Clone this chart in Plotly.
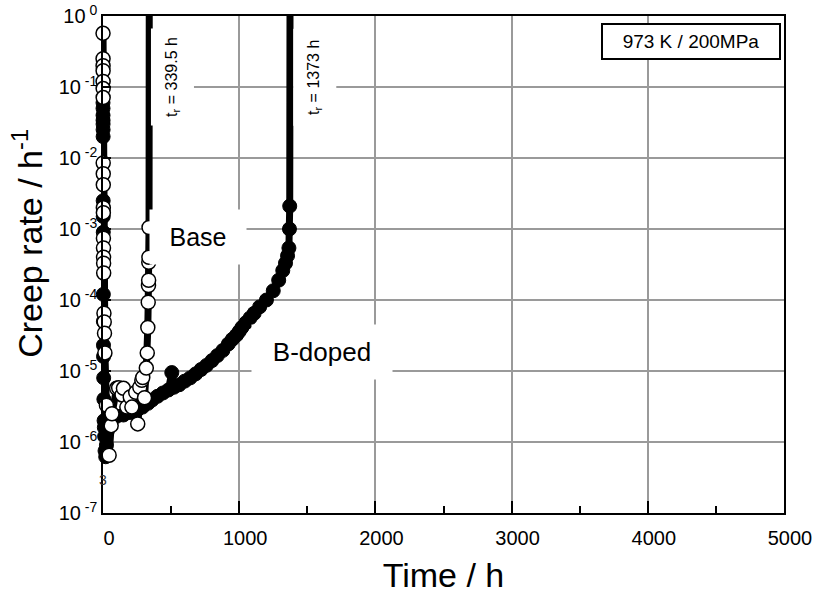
import plotly.graph_objects as go

# ---- creep test data, 973 K / 200 MPa ----
# Base steel: (time / h, creep rate / h^-1)
base_time = [0.2, 0.35, 0.5, 0.65, 0.8, 1.0, 1.2, 1.5, 1.8, 2.1, 2.4, 2.7, 3.0, 3.5,
             4.0, 4.5, 5.0, 7, 9, 11, 14, 25, 45, 60, 66, 100, 115, 140, 150, 175,
             200, 212, 240, 255, 270, 285, 292, 305, 318, 325, 329, 332, 334, 335,
             336, 337, 338]
base_rate = [0.57, 0.25, 0.2, 0.17, 0.12, 0.095, 0.071, 8.5e-3, 6.0e-3, 4.2e-3, 2.0e-3,
             1.7e-3, 7.4e-4, 5.4e-4, 4.0e-4, 3.3e-4, 2.4e-4, 6.5e-5, 4.9e-5, 3.4e-5,
             1.8e-5, 3.3e-6, 6.5e-7, 1.7e-6, 2.5e-6, 5.7e-6, 5.8e-6, 4.6e-6, 5.7e-6,
             3.1e-6, 4.3e-6, 3.1e-6, 5.0e-6, 1.8e-6, 5.9e-6, 7.4e-6, 8.1e-6, 4.2e-6,
             1.1e-5, 1.8e-5, 4.1e-5, 9.3e-5, 1.6e-4, 1.9e-4, 3.4e-4, 4.0e-4, 1.05e-3]

# Boron-doped steel
bdop_time = [0.1, 0.2, 0.3, 0.4, 0.5, 0.7, 1.0, 1.3, 1.6, 2.0, 2.5, 3.0, 3.5, 4.0, 5.0,
             6.5, 8, 10, 12, 15, 20, 25, 30, 40, 60, 100, 150, 200, 250, 290, 330, 360,
             400, 440, 480, 505, 520, 560, 600, 640, 680, 720, 760, 800, 840, 880, 920,
             950, 980, 1000, 1020, 1050, 1080, 1110, 1150, 1200, 1250, 1290, 1320, 1340,
             1355, 1365, 1369, 1371]
bdop_rate = [0.06, 0.05, 0.04, 0.034, 0.03, 0.025, 0.02, 2.5e-3, 1.5e-3, 9e-4, 1.2e-4,
             5e-5, 2.3e-5, 1.6e-5, 8e-6, 4e-6, 2e-6, 1.6e-6, 1.2e-6, 7.5e-7, 6.2e-7,
             9e-7, 1.4e-6, 1.9e-6, 2.2e-6, 2.3e-6, 2.4e-6, 2.6e-6, 2.8e-6, 3.1e-6,
             3.5e-6, 3.9e-6, 4.4e-6, 4.9e-6, 5.4e-6, 9.5e-6, 5.9e-6, 6.4e-6, 7.2e-6,
             8.0e-6, 9.1e-6, 1.05e-5, 1.2e-5, 1.4e-5, 1.65e-5, 1.95e-5, 2.4e-5, 2.8e-5,
             3.2e-5, 3.6e-5, 4.1e-5, 4.8e-5, 5.6e-5, 6.5e-5, 8.0e-5, 1.0e-4, 1.35e-4,
             1.9e-4, 2.6e-4, 3.3e-4, 4.2e-4, 5.4e-4, 1.0e-3, 2.1e-3]

# rupture lives
base_rupture = 339.5
bdop_rupture = 1373
rupture_rate = 1.0

# axis ticks
x_ticks = [0, 1000, 2000, 3000, 4000, 5000]
y_exponents = [0, -1, -2, -3, -4, -5, -6, -7]

FONT = "Liberation Sans, Arial, Helvetica, sans-serif"

fig = go.Figure()

# B-doped: thick black line running up to rupture, filled markers
fig.add_trace(go.Scatter(
    x=bdop_time + [bdop_rupture], y=bdop_rate + [rupture_rate],
    mode="lines", line=dict(color="black", width=7),
    showlegend=False, hoverinfo="skip"))
fig.add_trace(go.Scatter(
    x=bdop_time, y=bdop_rate, mode="markers", name="B-doped",
    marker=dict(symbol="circle", size=14, color="black",
                line=dict(color="black", width=1)),
    cliponaxis=False, showlegend=False))

# Base: thick black line, open (white) markers on top
fig.add_trace(go.Scatter(
    x=base_time + [base_rupture], y=base_rate + [rupture_rate],
    mode="lines", line=dict(color="black", width=7),
    showlegend=False, hoverinfo="skip"))
fig.add_trace(go.Scatter(
    x=base_time, y=base_rate, mode="markers", name="Base",
    marker=dict(symbol="circle", size=14, color="white",
                line=dict(color="black", width=1.5)),
    cliponaxis=False, showlegend=False))

annotations = [
    dict(x=696, y=-3.117, text="Base", font=dict(size=25),
         width=92, height=50),
    dict(x=1608, y=-4.73, text="B-doped", font=dict(size=26),
         width=136, height=50),
    dict(x=512, y=-0.863, text="t<sub>r</sub> = 339.5 h", font=dict(size=16),
         textangle=-90, width=92, height=38),
    dict(x=1557, y=-0.863, text="t<sub>r</sub> = 1373 h", font=dict(size=16),
         textangle=-90, width=92, height=38),
    dict(x=4318, y=-0.355, text="973 K / 200MPa", font=dict(size=19),
         width=174, height=31, bordercolor="black", borderwidth=2, borderpad=1),
]
for a in annotations:
    a.setdefault("bgcolor", "white")
    a.setdefault("borderpad", 2)
    fig.add_annotation(xref="x", yref="y", showarrow=False, **a)

fig.add_annotation(xref="x", yref="y", x=0, y=-6.54, text="3", showarrow=False,
                   font=dict(size=14, color="#333"))

# y-axis title
fig.add_annotation(xref="paper", yref="paper", x=-0.112, y=0.543,
                   xanchor="center", yanchor="middle", textangle=-90,
                   text="Creep rate / h<sup>-1</sup>", showarrow=False,
                   font=dict(size=34))

fig.update_layout(
    width=819, height=594,
    margin=dict(l=103, r=35, t=16, b=81),
    paper_bgcolor="white", plot_bgcolor="white",
    font=dict(family=FONT, color="black"),
    xaxis=dict(
        range=[0, 5000], tickvals=x_ticks, ticktext=[str(v) for v in x_ticks],
        ticks="inside", ticklen=12, tickwidth=1.5, tickcolor="black",
        tickfont=dict(size=20), ticklabelshift=6, ticklabelstandoff=6,
        showgrid=True, gridcolor="#9a9a9a", gridwidth=1.5,
        showline=True, linecolor="black", linewidth=1.5, mirror=True,
        zeroline=False, automargin=False,
        minor=dict(dtick=500, ticks="inside", ticklen=7, tickwidth=1.5,
                   tickcolor="black", showgrid=False),
        title=dict(text="Time / h", font=dict(size=34), standoff=16),
    ),
    yaxis=dict(
        type="log", range=[-7, 0],
        tickvals=[10.0 ** e for e in y_exponents],
        ticktext=["10<sup> %d</sup>" % e for e in y_exponents],
        ticks="inside", ticklen=8, tickwidth=1.5, tickcolor="black",
        tickfont=dict(size=20),
        showgrid=True, gridcolor="#9a9a9a", gridwidth=1.5,
        showline=True, linecolor="black", linewidth=1.5, mirror=True,
        zeroline=False, automargin=False,
    ),
)

fig.write_html("out.html")
